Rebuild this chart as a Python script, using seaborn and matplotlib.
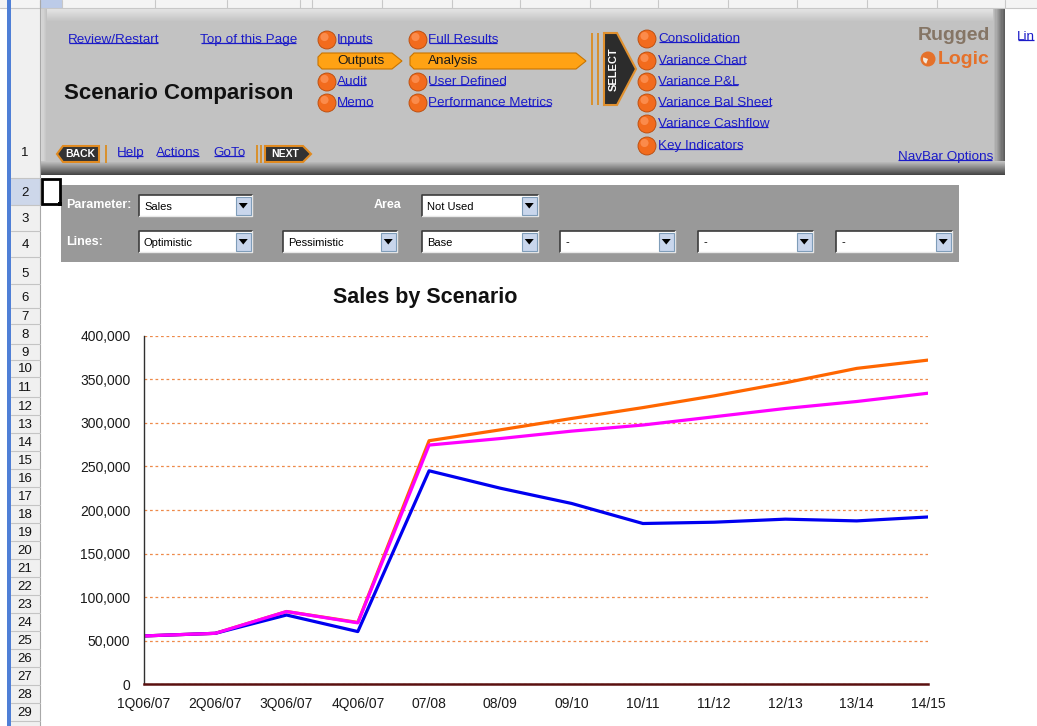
import numpy as np
import pandas as pd
import matplotlib
matplotlib.use("Agg")
import matplotlib.pyplot as plt
import seaborn as sns
from matplotlib.patches import Rectangle, Polygon, Circle, Wedge
from matplotlib.ticker import FuncFormatter
from matplotlib.colors import to_rgb

# ---------------- data ----------------
periods = ["1Q06/07", "2Q06/07", "3Q06/07", "4Q06/07", "07/08", "08/09",
           "09/10", "10/11", "11/12", "12/13", "13/14", "14/15"]
optimistic = [55500, 58500, 83500, 71000, 279500, 292000, 305000, 317500,
              331000, 346000, 362500, 372000]
pessimistic = [55500, 58500, 79500, 60500, 245000, 225000, 207500, 184500,
               186000, 189500, 187500, 192000]
base = [55500, 58500, 83500, 70500, 274500, 282000, 290500, 297500,
        307000, 316500, 324500, 334000]
scenarios = ["Optimistic", "Pessimistic", "Base"]
colors = {"Optimistic": "#FF6600", "Pessimistic": "#0000F0", "Base": "#FF00FF"}
y_ticks = [0, 50000, 100000, 150000, 200000, 250000, 300000, 350000, 400000]

nav_col1 = ["Inputs", "Outputs", "Audit", "Memo"]
nav_col2 = ["Full Results", "Analysis", "User Defined", "Performance Metrics"]
nav_col3 = ["Consolidation", "Variance Chart", "Variance P&L",
            "Variance Bal Sheet", "Variance Cashflow", "Key Indicators"]
line_choices = ["Optimistic", "Pessimistic", "Base", "-", "-", "-"]

n = len(periods)
df = pd.DataFrame({
    "idx": np.tile(np.arange(n), 3),
    "Sales": optimistic + pessimistic + base,
    "Scenario": np.repeat(scenarios, n),
})

# ---------------- style ----------------
sns.set_style("white")
FONT = ["Liberation Sans", "DejaVu Sans"]
plt.rcParams["font.family"] = FONT

W, H = 1037, 726
fig = plt.figure(figsize=(W / 100, H / 100), dpi=100)
fig.patch.set_facecolor("white")
bg = fig.add_axes([0, 0, 1, 1], zorder=0)
bg.set_xlim(0, W)
bg.set_ylim(H, 0)
bg.axis("off")

links = []
LINK = "#1b1bc8"


def txt(x, y, s, size=9.7, color="black", weight="normal", ha="left",
        va="center", link=False, **kw):
    t = bg.text(x, y, s, fontsize=size, color=color, fontweight=weight,
                ha=ha, va=va, family=FONT, **kw)
    if link:
        links.append(t)
    return t


def rect(x, y, w, h, fc, ec="none", lw=0, z=1):
    bg.add_patch(Rectangle((x, y), w, h, facecolor=fc, edgecolor=ec, lw=lw, zorder=z))


def grad_rect(x, y, w, h, c0, c1, vertical=True, steps=14, z=1):
    a, b = np.array(to_rgb(c0)), np.array(to_rgb(c1))
    for i in range(steps):
        c = a + (b - a) * i / (steps - 1)
        if vertical:
            rect(x, y + h * i / steps, w, h / steps + 0.3, c, z=z)
        else:
            rect(x + w * i / steps, y, w / steps + 0.3, h, c, z=z)


# ---------------- sheet frame: column header strip & row headers ----------------
rect(0, 0, W, 8, "#f4f4f4")
bg.plot([0, W], [8, 8], color="#c8c8c8", lw=0.8)
for cx in [40, 62, 155, 227, 300, 312, 382, 452, 520, 590, 658, 728, 797, 867, 937, 1005]:
    bg.plot([cx, cx], [0, 8], color="#c8c8c8", lw=0.8)
rect(41, 0, 21, 8, "#bccbe8")

rect(7, 0, 3.5, H, "#4f7fd6", z=3)
rect(10.5, 8, 29.5, H - 8, "#f0f0f0")
bg.plot([40, 40], [0, H], color="#a8a8a8", lw=0.8)
row_bounds = [8, 178, 205, 231, 257, 284, 308, 324, 344, 360, 377, 397, 415,
              433, 451, 469, 487, 505, 523, 541, 559, 577, 595, 613, 631, 649,
              667, 685, 703, 721, 740]
rect(10.5, 178, 29.5, 27, "#cdd7ea")
for i in range(len(row_bounds) - 1):
    top, bot = row_bounds[i], row_bounds[i + 1]
    bg.plot([10.5, 40], [bot, bot], color="#c4c4c4", lw=0.8)
    if i + 1 <= 29:
        ly = 153 if i == 0 else (top + bot) / 2 + 1
        if i + 1 in (5, 6):
            ly = bot - 10
        txt(25, ly, str(i + 1), size=9.5, ha="center", color="#111111")

# selected cell
bg.add_patch(Rectangle((41.5, 179), 18, 25, facecolor="none", edgecolor="black", lw=2, zorder=4))
rect(57.5, 202, 4, 4, "black", z=5)

# ---------------- navigation bar ----------------
rect(40, 8, 965, 167, "#c2c2c2")
grad_rect(40, 8, 965, 14, "#e6e6e6", "#c2c2c2")
grad_rect(40, 8, 7, 160, "#dedede", "#c2c2c2", vertical=False, steps=6)
grad_rect(993, 8, 12, 167, "#c2c2c2", "#5c5c5c", vertical=False, steps=10)
grad_rect(40, 161, 965, 14, "#c2c2c2", "#464646")

txt(68, 40, "Review/Restart", color=LINK, link=True)
txt(200, 40, "Top of this Page", color=LINK, link=True)
txt(64, 94, "Scenario Comparison", size=16, weight="bold", color="#111111")


def dot(x, y, r=9):
    bg.add_patch(Circle((x, y), r, facecolor="#f26b1d", edgecolor="#b84a0a", lw=0.6, zorder=3))
    bg.add_patch(Circle((x - 2.5, y - 3), r * 0.45, facecolor="#ff9a60", edgecolor="none", alpha=0.7, zorder=3))


def tab(x0, x1, y0, y1):
    ym = (y0 + y1) / 2
    pts = [(x0 + 4, y0), (x1 - 10, y0), (x1, ym), (x1 - 10, y1), (x0 + 4, y1), (x0, y1 - 4), (x0, y0 + 4)]
    bg.add_patch(Polygon(pts, closed=True, facecolor="#ffa214", edgecolor="#c87400", lw=0.8, zorder=3))


col1_y = [40, 61, 82, 103]
for lab, yy in zip(nav_col1, col1_y):
    if lab == "Outputs":
        tab(318, 402, 53, 69)
        txt(361, yy, lab, ha="center", color="#1a1a1a")
    else:
        dot(327, yy)
        txt(337, yy, lab, color=LINK, link=True, zorder=4)

for lab, yy in zip(nav_col2, col1_y):
    if lab == "Analysis":
        tab(410, 586, 53, 69)
        txt(428, yy, lab, color="#1a1a1a")
    else:
        dot(418, yy)
        txt(428, yy, lab, color=LINK, link=True, zorder=4)

# SELECT chevron
rect(591, 33, 2, 72, "#d8912f", z=3)
rect(597, 33, 2, 72, "#d8912f", z=3)
bg.add_patch(Polygon([(604, 33), (617, 33), (636, 69), (617, 105), (604, 105)], closed=True,
                     facecolor="#2c2c2c", edgecolor="#e0902e", lw=1.5, zorder=3))
txt(614, 69, "SELECT", size=8, weight="bold", color="white", ha="center", rotation=90, zorder=4)

col3_y = [39, 61, 82, 103, 124, 146]
for lab, yy in zip(nav_col3, col3_y):
    dot(647, yy)
    txt(658, yy, lab, color=LINK, link=True, zorder=4)

# BACK / NEXT
bg.add_patch(Polygon([(57, 154), (63, 146), (99, 146), (99, 162), (63, 162)], closed=True,
                     facecolor="#333333", edgecolor="#e08a20", lw=1.5, zorder=3))
txt(80, 154, "BACK", size=7.5, weight="bold", color="white", ha="center", zorder=4)
rect(105, 145, 2, 18, "#d8912f", z=3)
txt(117, 153, "Help", color=LINK, link=True)
txt(156, 153, "Actions", color=LINK, link=True)
txt(213, 153, "GoTo", color=LINK, link=True)
rect(256, 145, 2, 18, "#d8912f", z=3)
rect(260, 145, 2, 18, "#d8912f", z=3)
bg.add_patch(Polygon([(265, 146), (303, 146), (311, 154), (303, 162), (265, 162)], closed=True,
                     facecolor="#333333", edgecolor="#e08a20", lw=1.5, zorder=3))
txt(285, 154, "NEXT", size=7.5, weight="bold", color="white", ha="center", zorder=4)

# logo
txt(990, 36, "Rugged", size=14, weight="bold", color="#857565", ha="right")
txt(990, 59, "Logic", size=14, weight="bold", color="#e5712a", ha="right")
bg.add_patch(Circle((928, 59), 7.5, facecolor="#e5712a", edgecolor="none", zorder=3))
bg.add_patch(Wedge((928, 59), 5, 110, 200, facecolor="#f4e8dc", edgecolor="none", zorder=4))
txt(993, 157, "NavBar Options", color=LINK, ha="right", link=True)
txt(1017, 37, "Lin", color=LINK, link=True)

# ---------------- parameter bar ----------------
rect(61, 185, 898, 77, "#999999")
txt(66, 205, "Parameter:", size=9, weight="bold", color="white")
txt(401, 205, "Area", size=9, weight="bold", color="white", ha="right")
txt(66, 242, "Lines:", size=9, weight="bold", color="white")


def dropdown(x0, x1, y0, y1, label):
    rect(x0, y0, x1 - x0, y1 - y0, "white", z=2)
    bg.plot([x0, x0, x1], [y1, y0, y0], color="#3c3c3c", lw=1.2, zorder=3)
    bg.plot([x0, x1, x1], [y1, y1, y0], color="#e8e8e8", lw=1.0, zorder=3)
    bx0 = x1 - 16
    bg.add_patch(Rectangle((bx0, y0 + 1.5), 14.5, y1 - y0 - 3, facecolor="#c9d6ec",
                           edgecolor="#7f9db9", lw=0.8, zorder=3))
    cx, cy = bx0 + 7.25, (y0 + y1) / 2
    bg.add_patch(Polygon([(cx - 4.5, cy - 2.5), (cx + 4.5, cy - 2.5), (cx, cy + 3)], closed=True,
                         facecolor="black", edgecolor="none", zorder=4))
    txt(x0 + 5, (y0 + y1) / 2 + 1, label, size=8, color="black", zorder=4)


dropdown(139, 252, 195, 216, "Sales")
dropdown(422, 538, 195, 216, "Not Used")
line_boxes = [(139, 252), (283, 397), (422, 538), (560, 675), (698, 813), (836, 952)]
for (x0, x1), lab in zip(line_boxes, line_choices):
    dropdown(x0, x1, 231, 252, lab)

# ---------------- chart ----------------
ax = fig.add_axes([144 / W, (H - 684.3) / H, (928 - 144) / W, (684.3 - 335.7) / H], zorder=2)
ax.patch.set_alpha(0)
sns.lineplot(data=df, x="idx", y="Sales", hue="Scenario", hue_order=scenarios,
             palette=colors, lw=2.3, ax=ax, legend=False, sort=False, estimator=None)
ax.set_xlim(0, n - 1)
ax.set_ylim(0, 400000)
ax.set_xticks(np.arange(n))
ax.set_xticklabels(periods)
ax.set_yticks(y_ticks)
ax.yaxis.set_major_formatter(FuncFormatter(lambda v, p: f"{int(v):,}"))
ax.set_xlabel("")
ax.set_ylabel("")
ax.yaxis.grid(True, color="#ee8a4a", linestyle=(0, (2.2, 2.2)), lw=0.9)
ax.xaxis.grid(False)
ax.set_axisbelow(True)
for s in ["top", "right"]:
    ax.spines[s].set_visible(False)
ax.spines["left"].set_color("#303030")
ax.spines["left"].set_linewidth(1.0)
ax.spines["bottom"].set_color("#5a1010")
ax.spines["bottom"].set_linewidth(1.8)
ax.tick_params(axis="both", which="major", direction="out", length=3.8, width=0.9,
               color="#404040", labelsize=10, labelcolor="#1a1a1a")
ax.tick_params(axis="y", pad=6)
ax.tick_params(axis="x", pad=5)
for t in ax.get_xticklabels() + ax.get_yticklabels():
    t.set_family(FONT)

txt(425, 297, "Sales by Scenario", size=15.5, weight="bold", ha="center", color="#111111")

# underline links
fig.canvas.draw()
renderer = fig.canvas.get_renderer()
inv = bg.transData.inverted()
for t in links:
    bb = t.get_window_extent(renderer)
    (x0, yb), (x1, _) = inv.transform([[bb.x0 + 0.5, bb.y0 + 2.6], [bb.x1 - 1.5, bb.y0 + 2.6]])
    bg.plot([x0, x1], [yb, yb], color=LINK, lw=0.9, zorder=4, solid_capstyle="butt")

fig.savefig("out.png", dpi=100, facecolor="white")
